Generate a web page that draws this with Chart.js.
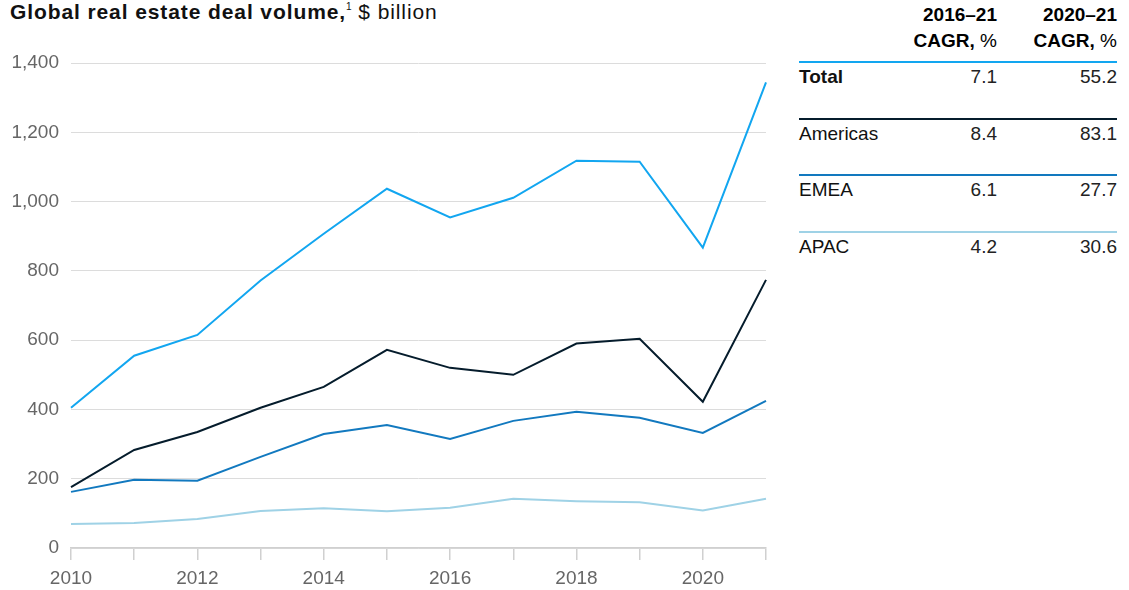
<!DOCTYPE html>
<html>
<head>
<meta charset="utf-8">
<script src="https://cdn.jsdelivr.net/npm/chart.js@4.4.0/dist/chart.umd.min.js"></script>
<style>
    html, body { margin: 0; padding: 0; background: #fff; }
    body { width: 1129px; height: 590px; position: relative; overflow: hidden;
           font-family: 'Liberation Sans', Arial, sans-serif; color: #000; }
    #title { position: absolute; left: 10px; top: 0px; font-size: 21px; letter-spacing: 0.9px;
             white-space: nowrap; color: #111; }
    #title b { font-weight: 700; }
    #title sup { font-size: 10px; vertical-align: 9px; letter-spacing: 0; }
    #chartBox { position: absolute; left: 0; top: 0; width: 780px; height: 590px; }
    #cagr { position: absolute; left: 799px; top: 0; width: 318px; font-size: 19px; }
    #cagr .head { position: absolute; top: 2px; text-align: right; line-height: 26px; font-size: 19px; }
    #cagr .row { position: absolute; left: 0; width: 318px; height: 2px; }
    #cagr .lbl { position: absolute; left: 0; color: #111; }
    #cagr .val { position: absolute; text-align: right; color: #222; }
</style>
</head>
<body>
<div id="title"><b>Global real estate deal volume,</b><sup>1</sup> $ billion</div>
<div id="chartBox"><canvas id="deals"></canvas></div>
<div id="cagr"></div>

<script>
// deal volume by region, $ billion
const years    = ['2010', '2011', '2012', '2013', '2014', '2015', '2016', '2017', '2018', '2019', '2020', '2021'];
const total    = [405, 555, 615, 772, 907, 1037, 954, 1011, 1118, 1115, 867, 1344];
const americas = [176, 283, 335, 405, 465, 572, 520, 500, 590, 604, 422, 774];
const emea     = [162, 197, 194, 263, 329, 355, 315, 367, 393, 376, 332, 425];
const apac     = [69, 72, 84, 107, 115, 106, 116, 142, 135, 132, 108, 142];
const yTicks   = [0, 200, 400, 600, 800, 1000, 1200, 1400];

// CAGR table
const regions      = ['Total', 'Americas', 'EMEA', 'APAC'];
const cagr2016_21  = ['7.1', '8.4', '6.1', '4.2'];
const cagr2020_21  = ['55.2', '83.1', '27.7', '30.6'];
const regionColors = ['#12a6f0', '#051c2c', '#1279bf', '#9fd2e6'];

const tickFont = { family: "'Liberation Sans', Arial, sans-serif", size: 19 };

function series(data, color) {
    return {
        data,
        borderColor: color,
        borderWidth: 2,
        pointRadius: 0,
        tension: 0,
        fill: false
    };
}

new Chart(document.getElementById('deals'), {
    type: 'line',
    data: {
        labels: years,
        datasets: [
            series(total, regionColors[0]),
            series(americas, regionColors[1]),
            series(emea, regionColors[2]),
            series(apac, regionColors[3])
        ]
    },
    options: {
        responsive: true,
        maintainAspectRatio: false,
        animation: false,
        layout: { padding: { top: 63, right: 14, left: 0, bottom: 0 } },
        plugins: { legend: { display: false }, tooltip: { enabled: false } },
        scales: {
            x: {
                offset: false,
                grid: { drawOnChartArea: false, drawTicks: true, tickLength: 12, color: '#d0d0d0', lineWidth: 1.5 },
                border: { display: true, color: '#d0d0d0', width: 1.5 },
                ticks: {
                    color: '#666',
                    font: tickFont,
                    padding: 7,
                    maxRotation: 0,
                    autoSkip: false,
                    callback: (v, i) => (i % 2 === 0 ? years[i] : '')
                },
                afterFit: s => { s.height = 42; }
            },
            y: {
                min: 0,
                max: 1400,
                afterBuildTicks: s => { s.ticks = yTicks.map(v => ({ value: v })); },
                grid: { drawTicks: false, color: '#dcdcdc', lineWidth: 1 },
                border: { display: false },
                ticks: {
                    color: '#666',
                    font: tickFont,
                    padding: 12,
                    callback: v => v.toLocaleString('en-US')
                },
                afterFit: s => { s.width = 71; }
            }
        }
    }
});

// CAGR table beside the chart
const box = document.getElementById('cagr');
const colRight = [198, 318];
const heads = ['2016–21', '2020–21'];
heads.forEach((h, c) => {
    const d = document.createElement('div');
    d.className = 'head';
    d.style.right = (318 - colRight[c]) + 'px';
    d.innerHTML = '<b>' + h + '</b><br><b>CAGR,</b> %';
    box.appendChild(d);
});
const rowTop = 61, rowStep = 56.5;
regions.forEach((r, i) => {
    const top = rowTop + i * rowStep;
    const line = document.createElement('div');
    line.className = 'row';
    line.style.top = top + 'px';
    line.style.background = regionColors[i];
    box.appendChild(line);

    const lbl = document.createElement('div');
    lbl.className = 'lbl';
    lbl.style.top = (top + 5) + 'px';
    lbl.textContent = r;
    if (i === 0) lbl.style.fontWeight = '700';
    box.appendChild(lbl);

    [cagr2016_21[i], cagr2020_21[i]].forEach((v, c) => {
        const d = document.createElement('div');
        d.className = 'val';
        d.style.top = (top + 5) + 'px';
        d.style.right = (318 - colRight[c]) + 'px';
        d.textContent = v;
        box.appendChild(d);
    });
});
</script>
</body>
</html>
